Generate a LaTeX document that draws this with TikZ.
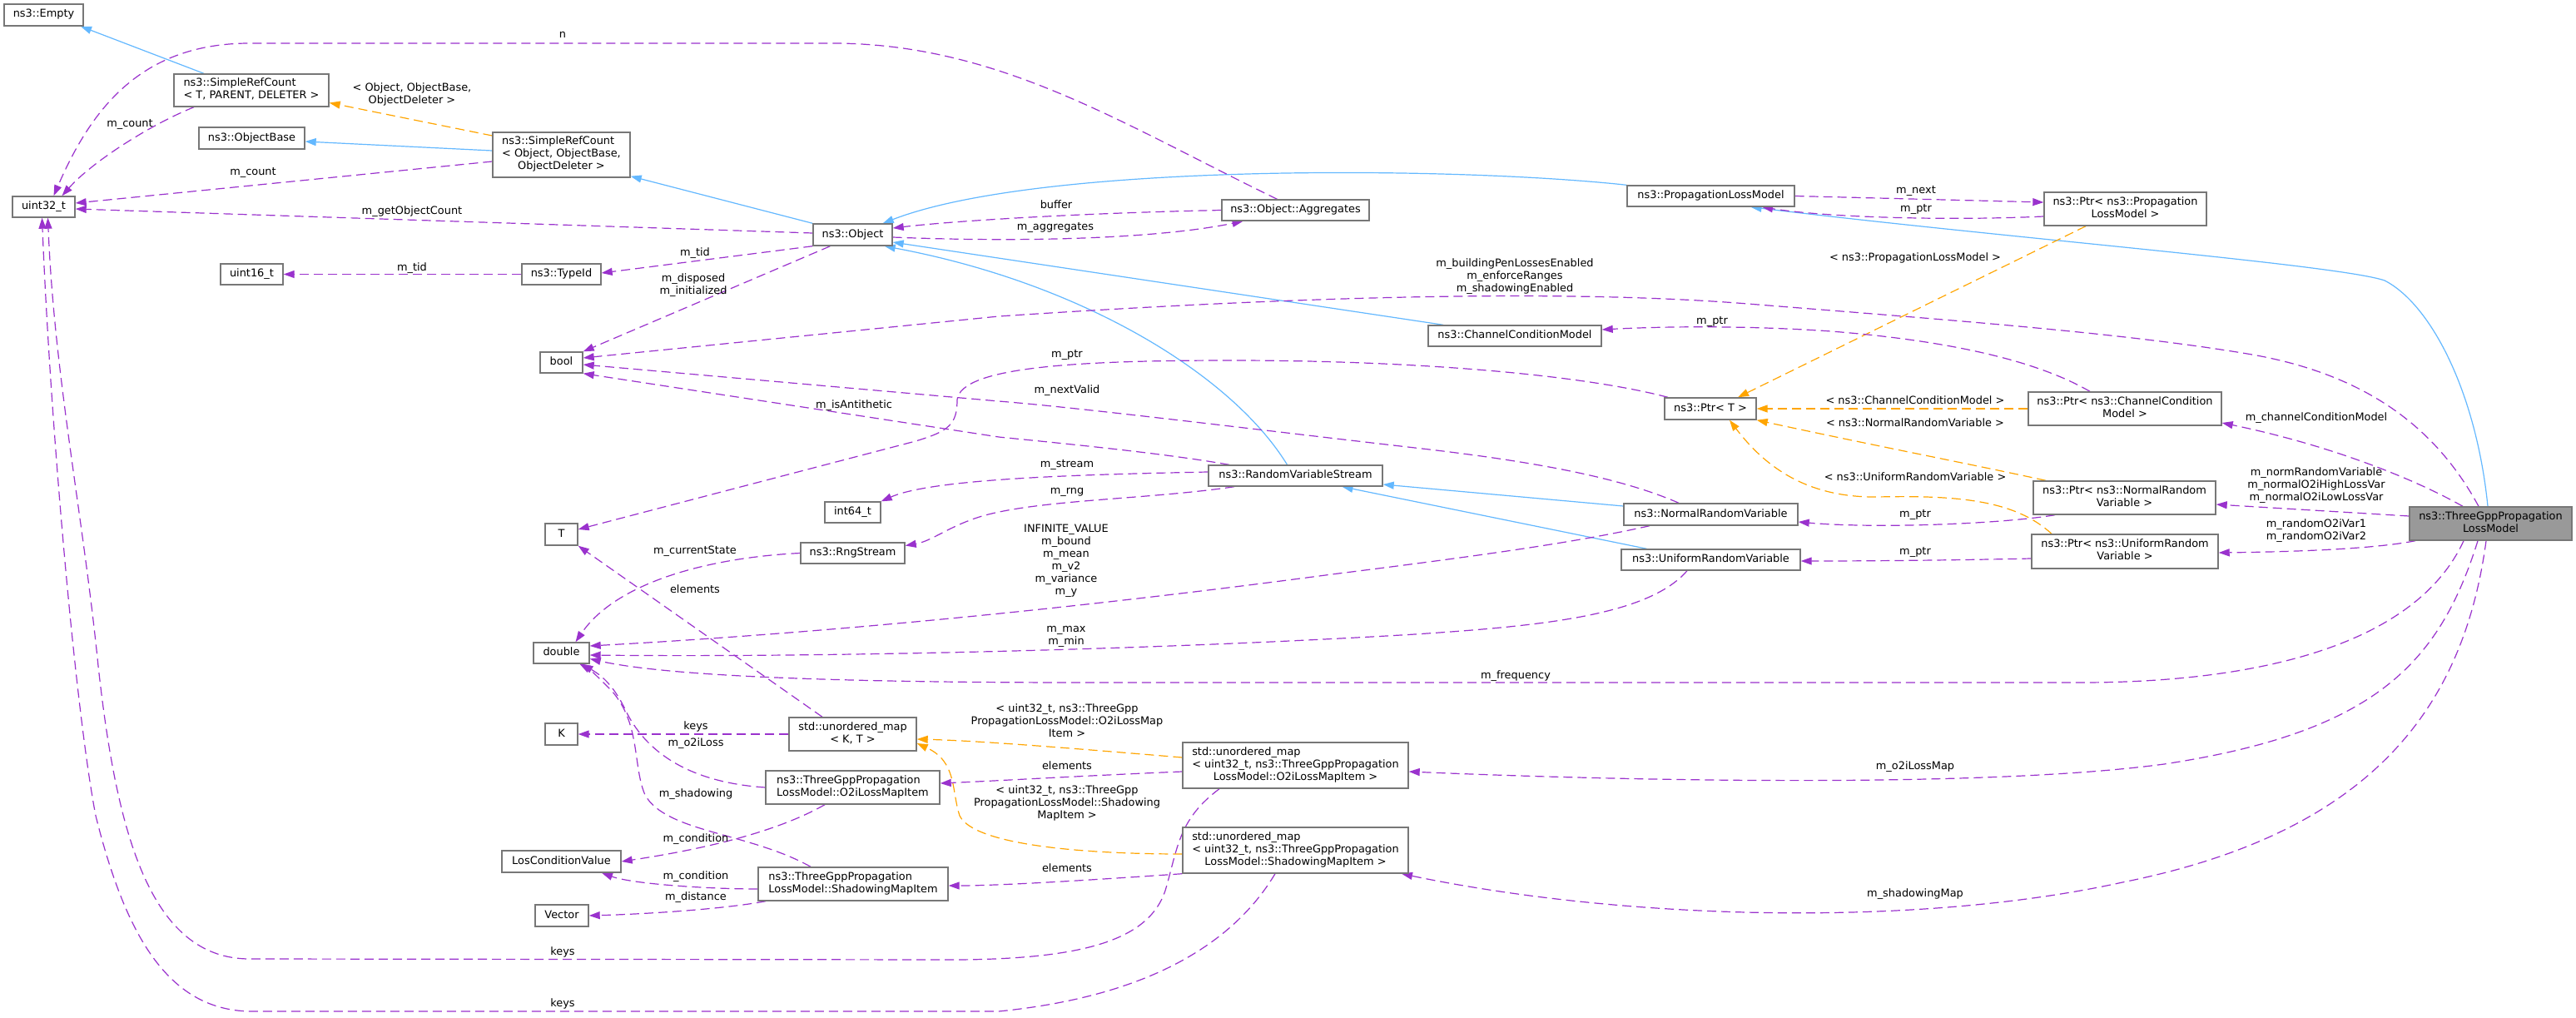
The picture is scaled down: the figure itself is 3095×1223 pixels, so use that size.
\documentclass[tikz,border=0pt]{standalone}
\usepackage{fontspec}
\setmainfont{DejaVu Sans}
\usetikzlibrary{arrows.meta}
\definecolor{eUse}{HTML}{9A32CD}
\definecolor{eInh}{HTML}{63B8FF}
\definecolor{eTpl}{HTML}{FFA500}
\definecolor{nBorder}{HTML}{777777}
\definecolor{nRoot}{HTML}{999999}
\newcommand{\lfl}[2]{\rlap{#1}\phantom{#2}}
\pgfdeclarelayer{bgl}
\pgfdeclarelayer{edges}
\pgfsetlayers{bgl,edges,main}
\begin{document}
\begin{tikzpicture}[x=1pt,y=-1pt,
  font=\fontsize{12.9}{15}\selectfont,
  cls/.style={draw=nBorder, line width=1.4pt, fill=white, rectangle, inner sep=0pt, align=center,
    execute at begin node=\strut, execute at end node=\strut},
  root/.style={cls, fill=nRoot},
  sz/.style 2 args={minimum width=#1pt, minimum height=#2pt},
  lab/.style={inner sep=0pt, align=center, execute at begin node=\strut, execute at end node=\strut},
  use/.style={draw=eUse, line width=1.2pt, dash pattern=on 11pt off 6pt, -{Triangle[length=13pt,width=9pt]}},
  inh/.style={draw=eInh, line width=1.2pt, -{Triangle[length=13pt,width=9pt]}},
  tpl/.style={draw=eTpl, line width=1.2pt, dash pattern=on 11pt off 6pt, -{Triangle[length=13pt,width=9pt]}}
]
\useasboundingbox (0,0) rectangle (3095,1223);
\begin{pgfonlayer}{bgl}
\fill[white] (0,0) rectangle (3095,1223);
\end{pgfonlayer}

% ---------------- class nodes ----------------
\node[cls, sz={95}{26}] (empty) at (52.5,18) {ns3::Empty};
\node[cls, sz={186}{39}] (srcT) at (302,108.5) {\lfl{ns3::SimpleRefCount}{< T, PARENT, DELETER >}\\< T, PARENT, DELETER >};
\node[cls, sz={127}{26}] (objbase) at (302.5,166) {ns3::ObjectBase};
\node[cls, sz={75}{25}] (u32) at (52.5,248.5) {uint32\_t};
\node[cls, sz={75}{25}] (u16) at (302.5,329.5) {uint16\_t};
\node[cls, sz={165}{54}] (srcObj) at (674.5,186) {\lfl{ns3::SimpleRefCount}{< Object, ObjectBase,}\\< Object, ObjectBase,\\ObjectDeleter >};
\node[cls, sz={95}{26}] (obj) at (1024.5,282) {ns3::Object};
\node[cls, sz={95}{25}] (typeid) at (674.5,329.5) {ns3::TypeId};
\node[cls, sz={177}{25}] (aggr) at (1556.5,252.5) {ns3::Object::Aggregates};
\node[cls, sz={201}{25}] (plm) at (2055.5,235.5) {ns3::PropagationLossModel};
\node[cls, sz={195}{40}] (ptrPLM) at (2553.5,251) {ns3::Ptr< ns3::Propagation\\LossModel >};
\node[cls, sz={208}{25}] (ccm) at (1820,403.5) {ns3::ChannelConditionModel};
\node[cls, sz={51}{25}] (bool) at (674.5,435.5) {bool};
\node[cls, sz={110}{26}] (ptrT) at (2055,491) {ns3::Ptr< T >};
\node[cls, sz={232}{40}] (ptrCCM) at (2553,491) {ns3::Ptr< ns3::ChannelCondition\\Model >};
\node[cls, sz={39}{26}] (T) at (674.5,642) {T};
\node[cls, sz={67}{25}] (int64) at (1024.5,615.5) {int64\_t};
\node[cls, sz={125}{25}] (rng) at (1024.5,664.5) {ns3::RngStream};
\node[cls, sz={209}{25}] (rvs) at (1556.5,571.5) {ns3::RandomVariableStream};
\node[cls, sz={209}{26}] (nrv) at (2055.5,618) {ns3::NormalRandomVariable};
\node[cls, sz={215}{25}] (urv) at (2055.5,672.5) {ns3::UniformRandomVariable};
\node[cls, sz={219}{40}] (ptrNRV) at (2552.5,598) {ns3::Ptr< ns3::NormalRandom\\Variable >};
\node[cls, sz={224}{41}] (ptrURV) at (2553,662.5) {ns3::Ptr< ns3::UniformRandom\\Variable >};
\node[root, sz={195}{40}] (tgp) at (2992.5,629) {ns3::ThreeGppPropagation\\LossModel};
\node[cls, sz={67}{25}] (double) at (674.5,784.5) {double};
\node[cls, sz={39}{26}] (K) at (674.5,882) {K};
\node[cls, sz={153}{40}] (umapKT) at (1024.5,882) {std::unordered\_map\\< K, T >};
\node[cls, sz={209}{40}] (o2iItem) at (1024.5,946) {\lfl{ns3::ThreeGppPropagation}{LossModel::O2iLossMapItem}\\LossModel::O2iLossMapItem};
\node[cls, sz={143}{26}] (losc) at (674.5,1035) {LosConditionValue};
\node[cls, sz={228}{40}] (shItem) at (1025,1062) {\lfl{ns3::ThreeGppPropagation}{LossModel::ShadowingMapItem}\\LossModel::ShadowingMapItem};
\node[cls, sz={64}{26}] (vector) at (675,1100) {Vector};
\node[cls, sz={271}{55}] (umapO2i) at (1556.5,919.5) {\lfl{std::unordered\_map}{< uint32\_t, ns3::ThreeGppPropagation}\\< uint32\_t, ns3::ThreeGppPropagation\\LossModel::O2iLossMapItem >};
\node[cls, sz={271}{55}] (umapSh) at (1556.5,1021.5) {\lfl{std::unordered\_map}{< uint32\_t, ns3::ThreeGppPropagation}\\< uint32\_t, ns3::ThreeGppPropagation\\LossModel::ShadowingMapItem >};

% ---------------- edge labels ----------------
\node[lab] (Ln) at (676,43) {n};
\node[lab] (Lcount1) at (156,149) {m\_count};
\node[lab] (Ltpl1) at (495,114) {< Object, ObjectBase,\\ObjectDeleter >};
\node[lab] (Lcount2) at (304,207) {m\_count};
\node[lab] (Lgoc) at (495,254) {m\_getObjectCount};
\node[lab] (Ltid1) at (495,322) {m\_tid};
\node[lab] (Ltid2) at (835,304) {m\_tid};
\node[lab] (Ldisp) at (833,343) {m\_disposed\\m\_initialized};
\node[lab] (Lbuf) at (1269,247) {buffer};
\node[lab] (Lagg) at (1268,273) {m\_aggregates};
\node[lab] (Lbld) at (1820,333) {m\_buildingPenLossesEnabled\\m\_enforceRanges\\m\_shadowingEnabled};
\node[lab] (Lnext) at (2302,229) {m\_next};
\node[lab] (Lptr1) at (2302,251) {m\_ptr};
\node[lab] (Ltpl2) at (2301,310) {< ns3::PropagationLossModel >};
\node[lab] (Lptr2) at (2057,386) {m\_ptr};
\node[lab] (Ltpl3) at (2301,482) {< ns3::ChannelConditionModel >};
\node[lab] (Ltpl4) at (2301,509) {< ns3::NormalRandomVariable >};
\node[lab] (Ltpl5) at (2301,574) {< ns3::UniformRandomVariable >};
\node[lab] (Lccm) at (2783,502) {m\_channelConditionModel};
\node[lab] (Lnorm) at (2783,584) {m\_normRandomVariable\\m\_normalO2iHighLossVar\\m\_normalO2iLowLossVar};
\node[lab] (Lunif) at (2783,638.5) {m\_randomO2iVar1\\m\_randomO2iVar2};
\node[lab] (Lptr3) at (2301,618) {m\_ptr};
\node[lab] (Lptr4) at (2301,663) {m\_ptr};
\node[lab] (Lptr5) at (1282,426) {m\_ptr};
\node[lab] (Lnv) at (1282,469) {m\_nextValid};
\node[lab] (Lanti) at (1026,487) {m\_isAntithetic};
\node[lab] (Lstream) at (1282,558) {m\_stream};
\node[lab] (Lrng) at (1282,590) {m\_rng};
\node[lab] (Linf) at (1281,674.5) {INFINITE\_VALUE\\m\_bound\\m\_mean\\m\_v2\\m\_variance\\m\_y};
\node[lab] (Lmax) at (1281,765.5) {m\_max\\m\_min};
\node[lab] (Lfreq) at (1821,812) {m\_frequency};
\node[lab] (Lcur) at (835,662) {m\_currentState};
\node[lab] (Lel1) at (835,709) {elements};
\node[lab] (Lkeys1) at (836,873) {keys};
\node[lab] (Lo2i) at (836,893) {m\_o2iLoss};
\node[lab] (Lsh) at (836,954) {m\_shadowing};
\node[lab] (Lc1) at (836,1008) {m\_condition};
\node[lab] (Lc2) at (836,1053) {m\_condition};
\node[lab] (Ldist) at (836,1078) {m\_distance};
\node[lab] (Ltpl6) at (1282,868) {< uint32\_t, ns3::ThreeGpp\\PropagationLossModel::O2iLossMap\\Item >};
\node[lab] (Lel2) at (1282,921) {elements};
\node[lab] (Ltpl7) at (1282,966) {< uint32\_t, ns3::ThreeGpp\\PropagationLossModel::Shadowing\\MapItem >};
\node[lab] (Lel3) at (1282,1044) {elements};
\node[lab] (Lo2im) at (2301,921) {m\_o2iLossMap};
\node[lab] (Lshm) at (2301,1074) {m\_shadowingMap};
\node[lab] (Lkeys2) at (676,1144) {keys};
\node[lab] (Lkeys3) at (676,1206) {keys};

% ---------------- edges ----------------
\begin{pgfonlayer}{edges}
% inheritance
\draw[inh] ([xshift=-57pt]srcT.north) -- ([xshift=44.5pt]empty.south);
\draw[inh] ([yshift=5pt]srcObj.west) -- ([yshift=-4pt]objbase.east);
\draw[inh] (obj.north west) -- ([yshift=2pt]srcObj.south east);
\draw[inh] (plm.north west) .. controls (1750,200) and (1250,195) .. ([xshift=-12pt]obj.north east);
\draw[inh] ([xshift=-86pt]ccm.north) -- ([yshift=-9pt]obj.east);
\draw[inh] ([xshift=-10pt]rvs.north) .. controls (1480,450) and (1300,340) .. ([xshift=-10pt]obj.south east);
\draw[inh] ([yshift=10pt]nrv.west) -- ([yshift=-10.5pt]rvs.east);
\draw[inh] ([xshift=-77pt]urv.north) -- ([xshift=56pt]rvs.south);
\draw[inh] ([xshift=-3.5pt]tgp.north) .. controls (2975,470) and (2920,365) .. (2865,337)
  .. controls (2810,318) and (2400,285) .. ([xshift=48pt]plm.south);

% templates
\draw[tpl] ([yshift=23pt]srcObj.west) -- ([yshift=-15pt]srcT.east);
\draw[tpl] ([xshift=-47.5pt]ptrPLM.south) -- ([xshift=33pt]ptrT.north);
\draw[tpl] (ptrCCM.west) -- (ptrT.east);
\draw[tpl] ([xshift=-94.5pt]ptrNRV.north) .. controls (2380,560) and (2250,535) .. (ptrT.south east);
\draw[tpl] ([xshift=-88pt]ptrURV.north) .. controls (2420,600) and (2350,595) .. (2255,597)
  .. controls (2170,598) and (2120,560) .. ([xshift=23pt]ptrT.south);
\draw[tpl] ([yshift=9.5pt]umapO2i.west) .. controls (1300,900) and (1180,890) .. ([yshift=-6pt]umapKT.east);
\draw[tpl] ([yshift=-4.5pt]umapSh.west) .. controls (1300,1026) and (1170,1015) .. (1153,980)
  .. controls (1143,950) and (1150,915) .. ([yshift=-11pt]umapKT.east);

% usage
\draw[use] ([xshift=-69pt]srcT.south) .. controls (180,150) and (110,195) .. ([xshift=22pt]u32.north);
\draw[use] ([xshift=-22pt]aggr.north) .. controls (1350,150) and (1200,52) .. (1000,52) -- (300,52)
  .. controls (170,52) and (110,130) .. ([xshift=12pt]u32.north);
\draw[use] ([yshift=-8pt]srcObj.west) -- ([yshift=4.5pt]u32.east);
\draw[use] ([yshift=2pt]obj.west) -- ([yshift=-2.5pt]u32.east);
\draw[use] (typeid.west) -- (u16.east);
\draw[use] (obj.south west) -- ([yshift=1.5pt]typeid.east);
\draw[use] ([xshift=-27pt]obj.south) -- (bool.north east);
\draw[use] (aggr.west) .. controls (1300,256) and (1150,265) .. ([yshift=8pt]obj.east);
\draw[use] ([yshift=-3pt]obj.east) .. controls (1250,292) and (1400,285) .. ([xshift=-63pt]aggr.south);
\draw[use] (plm.east) -- ([yshift=8pt]ptrPLM.west);
\draw[use] ([yshift=-9pt]ptrPLM.west) .. controls (2350,265) and (2200,262) .. ([xshift=61.5pt]plm.south);
\draw[use] ([xshift=-51pt]ptrT.north) .. controls (1900,450) and (1700,433) .. (1480,433)
  .. controls (1300,433) and (1155,440) .. (1150,480)
  .. controls (1150,510) and (1140,518) .. (1100,530) -- ([yshift=6pt]T.east);
\draw[use] ([xshift=-42pt]ptrCCM.north) .. controls (2450,435) and (2350,410) .. (2200,398)
  .. controls (2100,391) and (2000,392) .. ([yshift=7.5pt]ccm.east);
\draw[use] ([xshift=-14.5pt]tgp.north) .. controls (2930,520) and (2850,450) .. (2700,425)
  .. controls (2550,400) and (2350,385) .. (2100,365)
  .. controls (1850,345) and (1500,360) .. (1200,380) -- ([yshift=5.5pt]bool.east);
\draw[use] ([xshift=-38.5pt]nrv.north) .. controls (1950,575) and (1850,555) .. (1700,538)
  .. controls (1500,515) and (1300,490) .. (1200,482) -- ([yshift=-2.5pt]bool.east);
\draw[use] ([xshift=-79.5pt]rvs.north) .. controls (1400,545) and (1300,535) .. (1200,525) -- (bool.south east);
\draw[use] ([yshift=4.5pt]rvs.west) .. controls (1300,570) and (1120,575) .. (int64.north east);
\draw[use] ([xshift=-73.5pt]rvs.south) .. controls (1380,600) and (1250,600) .. (1180,620)
  .. controls (1140,632) and (1120,650) .. ([yshift=9pt]rng.east);
\draw[use] (rng.west) .. controls (850,670) and (740,700) .. ([xshift=17pt]double.north);
\draw[use] ([xshift=-36.5pt]umapKT.north) -- (T.south east);
\draw[use] ([xshift=-73.5pt]nrv.south) .. controls (1900,650) and (1800,665) .. (1600,690)
  .. controls (1300,730) and (1000,760) .. ([yshift=8.5pt]double.east);
\draw[use] ([xshift=-28.5pt]urv.south) .. controls (1980,740) and (1850,752) .. (1700,762)
  .. controls (1400,780) and (1000,790) .. ([yshift=-2.5pt]double.east);
\draw[use] ([xshift=-32.5pt]tgp.south) .. controls (2900,780) and (2700,820) .. (2500,820) -- (1300,820)
  .. controls (1000,820) and (800,812) .. ([yshift=-7pt]double.east);
\draw[use] (umapKT.west) -- (K.east);
\draw[use] (o2iItem.west) .. controls (830,940) and (775,905) .. (750,850)
  .. controls (735,820) and (720,810) .. ([xshift=25pt]double.south);
\draw[use] ([xshift=-51pt]shItem.north) .. controls (900,1000) and (800,1000) .. (775,955)
  .. controls (760,920) and (770,870) .. (735,830)
  .. controls (720,815) and (710,805) .. ([xshift=22pt]double.south);
\draw[use] ([xshift=-33.5pt]o2iItem.south) .. controls (950,990) and (880,1015) .. (losc.east);
\draw[use] ([yshift=-6pt]shItem.west) .. controls (850,1068) and (760,1062) .. ([xshift=48.5pt]losc.south);
\draw[use] ([xshift=-105pt]shItem.south) .. controls (870,1092) and (780,1098) .. (vector.east);
\draw[use] ([yshift=-7.5pt]umapO2i.west) .. controls (1300,932) and (1200,938) .. ([yshift=5pt]o2iItem.east);
\draw[use] (umapSh.south west) .. controls (1300,1058) and (1200,1064) .. ([yshift=-2pt]shItem.east);
\draw[use] ([xshift=-91.5pt]umapO2i.south) .. controls (1415,985) and (1415,1020) .. (1400,1070)
  .. controls (1380,1130) and (1300,1152) .. (1150,1153) -- (300,1152)
  .. controls (180,1152) and (140,1000) .. (118,800)
  .. controls (100,620) and (65,450) .. ([xshift=5pt]u32.south);
\draw[use] ([xshift=-24.5pt]umapSh.south) .. controls (1490,1120) and (1400,1195) .. (1200,1215) -- (300,1215)
  .. controls (200,1213) and (150,1120) .. (115,980)
  .. controls (90,850) and (60,500) .. ([xshift=-2pt]u32.south);
\draw[use] ([xshift=-33.5pt]tgp.north) .. controls (2900,575) and (2800,535) .. ([yshift=-17pt]ptrCCM.east);
\draw[use] ([yshift=9pt]tgp.west) -- ([yshift=-8pt]ptrNRV.east);
\draw[use] ([xshift=-90.5pt]tgp.south) .. controls (2850,660) and (2750,663) .. ([yshift=-1.5pt]ptrURV.east);
\draw[use] ([xshift=-83.5pt]ptrNRV.south) .. controls (2400,630) and (2250,635) .. ([yshift=-9pt]nrv.east);
\draw[use] ([yshift=-8.5pt]ptrURV.west) .. controls (2350,673) and (2250,674) .. ([yshift=-1.5pt]urv.east);
\draw[use] ([xshift=-15.5pt]tgp.south) .. controls (2930,800) and (2850,880) .. (2600,918)
  .. controls (2400,945) and (2000,940) .. ([yshift=-7.5pt]umapO2i.east);
\draw[use] ([xshift=-5.5pt]tgp.south) .. controls (2960,850) and (2850,1000) .. (2550,1060)
  .. controls (2300,1115) and (1950,1105) .. ([xshift=127.5pt]umapSh.south);
\end{pgfonlayer}
\end{tikzpicture}
\end{document}
